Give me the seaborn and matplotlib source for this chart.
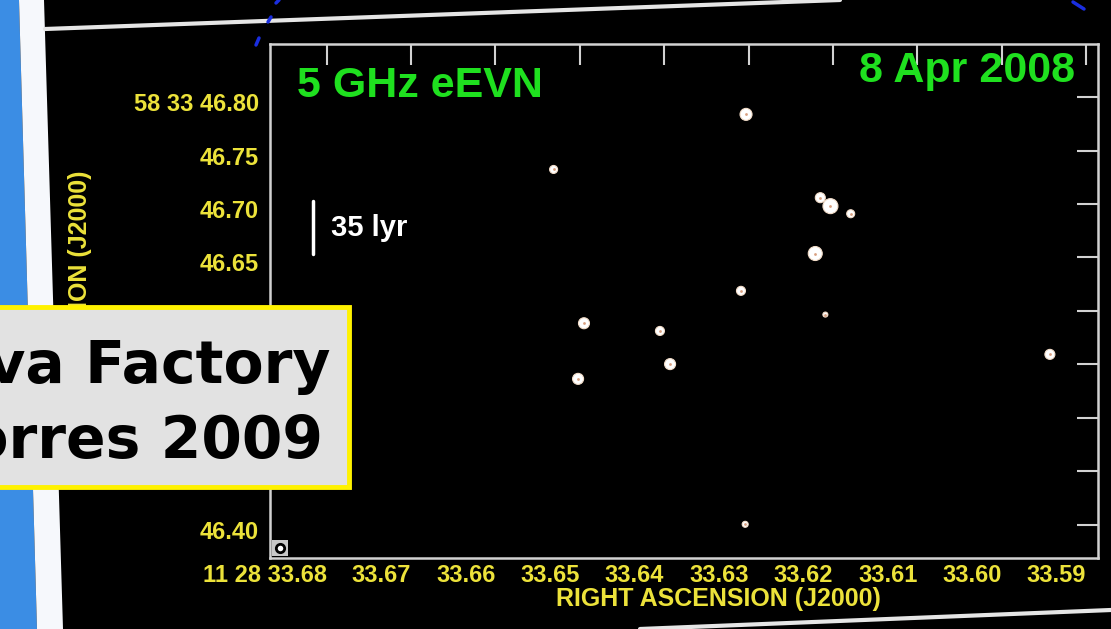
import pandas as pd
import matplotlib
matplotlib.use("Agg")
import matplotlib.pyplot as plt
import matplotlib.transforms as mtransforms
import seaborn as sns
from matplotlib.patches import Polygon, Rectangle
from matplotlib.lines import Line2D

W, H = 1111, 629

# compact radio sources
# RA in seconds past 11h 28m, Dec in arcsec past +58d 33'
ra_sec = [33.6303, 33.6531, 33.6215, 33.6203, 33.6179, 33.6221, 33.6309,
          33.6209, 33.6495, 33.6405, 33.6393, 33.6502, 33.5943, 33.6304]
dec_sec = [46.7838, 46.7323, 46.7059, 46.6980, 46.6909, 46.6537, 46.6188,
           46.5966, 46.5885, 46.5813, 46.5503, 46.5365, 46.5594, 46.4005]
# apparent blob diameter on the map (px)
blob_px = [12, 8, 10, 15, 8, 14, 9, 5, 11, 9, 11, 11, 10, 6]

ra_ticks = [33.68, 33.67, 33.66, 33.65, 33.64, 33.63, 33.62, 33.61, 33.60, 33.59]
ra_labels = ["11 28 33.68", "33.67", "33.66", "33.65", "33.64", "33.63",
             "33.62", "33.61", "33.60", "33.59"]
dec_ticks = [46.40, 46.45, 46.50, 46.55, 46.60, 46.65, 46.70, 46.75, 46.80]
dec_labels = ["46.40", "46.45", "46.50", "46.55", "46.60", "46.65", "46.70",
              "46.75", "58 33 46.80"]

# scale bar (35 lyr) in map coords
bar_ra = 33.6816
bar_dec = [46.653, 46.703]

YELLOW = "#ece23a"
GREEN = "#1fe01f"
GREY = "#d2d2d2"

sns.set_style("white")
plt.rcParams["font.family"] = ["Liberation Sans", "DejaVu Sans"]

df = pd.DataFrame({"ra": ra_sec, "dec": dec_sec, "blob": blob_px})
df["area"] = (df["blob"] * 0.72) ** 2

fig = plt.figure(figsize=(W / 100, H / 100), dpi=100, facecolor="black")

# slide background: blue edge + white frame strip
fig.patches.append(Polygon([(0, 1), (19 / W, 1), (37 / W, 0), (0, 0)],
                           closed=True, transform=fig.transFigure,
                           facecolor="#3b8de4", edgecolor="none", zorder=-2))
fig.patches.append(Polygon([(19 / W, 1), (44 / W, 1), (63 / W, 0), (37 / W, 0)],
                           closed=True, transform=fig.transFigure,
                           facecolor="#f6f8fc", edgecolor="none", zorder=-2))
fig.lines.append(Line2D([45 / W, 840 / W], [1 - 29 / H, 1], transform=fig.transFigure,
                        color="#e6e6e6", lw=3))
fig.lines.append(Line2D([640 / W, 1], [0, 1 - 610 / H], transform=fig.transFigure,
                        color="#e6e6e6", lw=3))
for seg in [((256, 259), (45, 38)), ((268, 271), (22, 17)), ((276, 279), (3, 0)),
            ((1073, 1084), (2, 9))]:
    fig.lines.append(Line2D([seg[0][0] / W, seg[0][1] / W],
                            [1 - seg[1][0] / H, 1 - seg[1][1] / H],
                            transform=fig.transFigure, color="#1a2ee0", lw=2.5))

ax_l, ax_r, ax_t, ax_b = 270, 1098, 44, 558
ax_w, ax_h = ax_r - ax_l, ax_b - ax_t
ax = fig.add_axes([ax_l / W, 1 - ax_b / H, ax_w / W, ax_h / H])
ax.set_facecolor("black")

sns.scatterplot(data=df, x="ra", y="dec", size="area",
                sizes=(df["area"].min(), df["area"].max()),
                size_norm=(df["area"].min(), df["area"].max()),
                color="white", edgecolor="#f2dcc8", linewidth=0.8,
                legend=False, ax=ax, zorder=3)
ax.scatter(df["ra"], df["dec"], s=4, color="#d9a080", zorder=4, linewidths=0)

ax.set_xlim(33.6867, 33.5886)
ax.set_ylim(46.369, 46.8496)

ax.set_xticks(ra_ticks)
ax.set_xticklabels(ra_labels, color=YELLOW, fontsize=17, fontweight="bold", ha="right")
ax.set_yticks(dec_ticks)
ax.set_yticklabels(dec_labels, color=YELLOW, fontsize=17, fontweight="bold")
ax.tick_params(axis="both", direction="in", length=15, width=1.5, color=GREY,
               top=True, right=True, labeltop=False, labelright=False)
ax.tick_params(axis="x", pad=4)
ax.tick_params(axis="y", pad=8)
# AIPS-style labels sit a little below their ticks
shift = mtransforms.ScaledTranslation(0, -5 / 100, fig.dpi_scale_trans)
for lbl in ax.get_yticklabels():
    lbl.set_transform(lbl.get_transform() + shift)
for s in ax.spines.values():
    s.set_color(GREY)
    s.set_linewidth(1.8)

ax.set_xlabel("RIGHT ASCENSION (J2000)", color=YELLOW, fontsize=18, fontweight="bold")
ax.xaxis.set_label_coords(0.541, -0.056)
ax.set_ylabel("DECLINATION (J2000)", color=YELLOW, fontsize=18, fontweight="bold")
ax.yaxis.set_label_coords(-0.215, 0.5)

ax.text(27 / ax_w, (ax_b - 97) / ax_h, "5 GHz eEVN", transform=ax.transAxes, color=GREEN,
        fontsize=31, fontweight="bold", va="baseline", ha="left")
ax.text((1075 - ax_l) / ax_w, (ax_b - 82) / ax_h, "8 Apr 2008", transform=ax.transAxes,
        color=GREEN, fontsize=31, fontweight="bold", va="baseline", ha="right")

ax.plot([bar_ra, bar_ra], bar_dec, color="white", lw=2.5)
ax.text(33.6795, sum(bar_dec) / 2, "35 lyr", color="white", fontsize=21,
        fontweight="bold", va="center", ha="left")

# restoring beam box in the corner
ax.add_patch(Rectangle((0.003, 0.003), 16 / ax_w, 16 / ax_h, transform=ax.transAxes,
                       facecolor="#c8c8c8", edgecolor="none", zorder=5))
ax.plot([0.003 + 8 / ax_w], [0.003 + 8 / ax_h], marker="o", ms=6, mfc="white",
        mec="black", mew=2, transform=ax.transAxes, zorder=6)

# caption box overlaid on the slide
fig.patches.append(Rectangle((-0.01, 1 - 487 / H), 0.01 + 349 / W, 180 / H,
                             transform=fig.transFigure, facecolor="#e2e2e2",
                             edgecolor="#fff200", lw=3.5, zorder=5))
fig.text(330 / W, 1 - 383 / H, "Supernova Factory", ha="right", va="baseline",
         fontsize=42, fontweight="bold", color="black", family="DejaVu Sans", zorder=6)
fig.text(323 / W, 1 - 458 / H, "Pérez-Torres 2009", ha="right", va="baseline",
         fontsize=42, fontweight="bold", color="black", family="DejaVu Sans", zorder=6)

fig.savefig("out.png", dpi=100, facecolor="black")
